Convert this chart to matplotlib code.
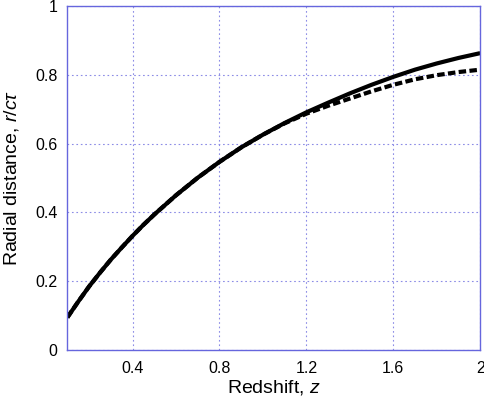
import numpy as np
import matplotlib
matplotlib.use('Agg')
from matplotlib import pyplot as plt

plt.rcParams['font.family'] = ['Liberation Sans', 'DejaVu Sans']
plt.rcParams['mathtext.fontset'] = 'custom'
plt.rcParams['mathtext.rm'] = 'Liberation Sans'
plt.rcParams['mathtext.it'] = 'Liberation Sans:italic'

# redshift samples
z = [0.1, 0.15, 0.2, 0.25, 0.3, 0.35, 0.4, 0.45, 0.5, 0.6, 0.7, 0.8, 0.9, 1.0,
     1.1, 1.2, 1.3, 1.4, 1.5, 1.6, 1.7, 1.8, 1.9, 2.0]
# solid curve
r_solid = [0.095, 0.141, 0.185, 0.225, 0.263, 0.298, 0.332, 0.364, 0.394, 0.450,
           0.501, 0.547, 0.589, 0.626, 0.660, 0.691, 0.719, 0.746, 0.771, 0.794,
           0.815, 0.833, 0.849, 0.863]
# dashed curve
r_dash = [0.095, 0.141, 0.185, 0.225, 0.263, 0.298, 0.332, 0.364, 0.394, 0.450,
          0.501, 0.547, 0.589, 0.626, 0.659, 0.687, 0.710, 0.731, 0.752, 0.771,
          0.787, 0.799, 0.808, 0.815]

xticks = [0.4, 0.8, 1.2, 1.6, 2]
yticks = [0, 0.2, 0.4, 0.6, 0.8, 1]

edge = '#6666dd'
grid = '#8c8ce6'

fig = plt.figure(figsize=(4.85, 4.01), dpi=100)
ax = fig.add_axes([0.139, 0.127, 0.851, 0.858])

ax.plot(z, r_solid, color='black', lw=3.0, solid_capstyle='butt')
ax.plot(z, r_dash, color='black', lw=3.0, dashes=(1.8, 0.8))

ax.set_xlim(0.1, 2)
ax.set_ylim(0, 1)
ax.set_xticks(xticks)
ax.set_yticks(yticks)
ax.set_xticklabels(['%g' % t for t in xticks])
ax.set_yticklabels(['%g' % t for t in yticks])
ax.tick_params(length=0, labelsize=11.5)
ax.tick_params(axis='x', pad=8)
ax.tick_params(axis='y', pad=7)
ax.grid(True, color=grid, linestyle=(0, (1.5, 2.5)), lw=0.8)
for s in ax.spines.values():
    s.set_color(edge)
    s.set_linewidth(1.0)

ax.set_xlabel('Redshift, $z$', fontsize=14, labelpad=1)
ax.set_ylabel('Radial distance, $r/c\\tau$', fontsize=14, labelpad=10)

fig.savefig('out.png', dpi=100)
